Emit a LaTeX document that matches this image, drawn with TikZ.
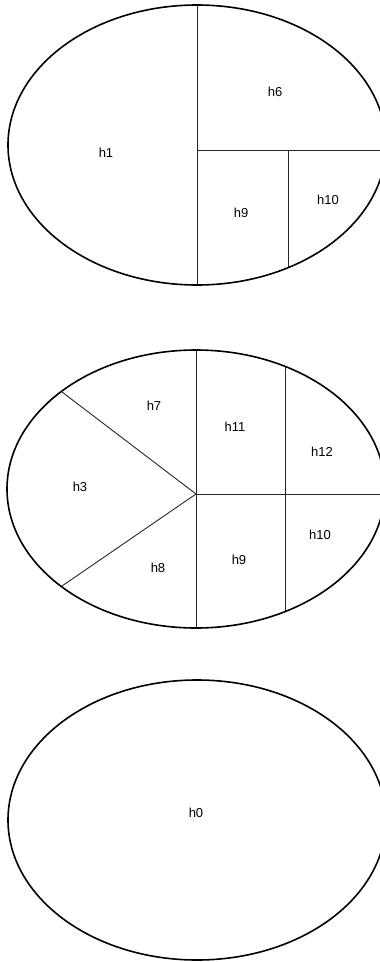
\documentclass[tikz,border=0pt]{standalone}
\usepackage{fontspec}
\setmainfont{Liberation Sans}
\usetikzlibrary{calc}
\newcommand{\region}[2]{%
  \draw[outline] #1 ellipse [x radius=189, y radius=#2];
}

\begin{document}
\begin{tikzpicture}[x=1pt,y=-1pt,font=\fontsize{13}{15}\selectfont,
    outline/.style={draw=black,line width=1.6pt},
    cut/.style={draw=black!85,line width=0.9pt},
    lbl/.style={inner sep=0pt}]
  \useasboundingbox (0,0) rectangle (380,962);
  % top: h1 / h6 / h9 / h10
  \coordinate (a1) at (197,5);
  \coordinate (a2) at (197,285);
  \coordinate (a3) at (197,150);
  \coordinate (a4) at (382,150);
  \coordinate (a5) at (288,150);
  \coordinate (a6) at (288,268);
  \draw[cut] (a1) -- (a2);
  \draw[cut] (a3) -- (a4);
  \draw[cut] (a5) -- (a6);
  \region{(197,145)}{140}
  \node[lbl] (h1) at (106,153) {h1};
  \node[lbl] (h6) at (275,92) {h6};
  \node[lbl] (h9a) at (241,213) {h9};
  \node[lbl] (h10a) at (328,200) {h10};
  % middle: h3 / h7 / h8 / h9 / h10 / h11 / h12
  \coordinate (b0) at (196,494);
  \coordinate (b1) at (196,350);
  \coordinate (b2) at (196,628);
  \coordinate (b3) at (382,494);
  \coordinate (b4) at (62,392);
  \coordinate (b5) at (62,586);
  \coordinate (b6) at (285,366);
  \coordinate (b7) at (285,612);
  \draw[cut] (b1) -- (b2);
  \draw[cut] (b0) -- (b3);
  \draw[cut] (b4) -- (b0) -- (b5);
  \draw[cut] (b6) -- (b7);
  \region{(196,489)}{139}
  \node[lbl] (h3) at (80,487) {h3};
  \node[lbl] (h7) at (154,406) {h7};
  \node[lbl] (h8) at (158,568) {h8};
  \node[lbl] (h11) at (235,427) {h11};
  \node[lbl] (h12) at (322,452) {h12};
  \node[lbl] (h9b) at (239,560) {h9};
  \node[lbl] (h10b) at (320,535) {h10};
  % bottom: h0
  \region{(197,820)}{140}
  \node[lbl] (h0) at (196,813) {h0};
\end{tikzpicture}
\end{document}
